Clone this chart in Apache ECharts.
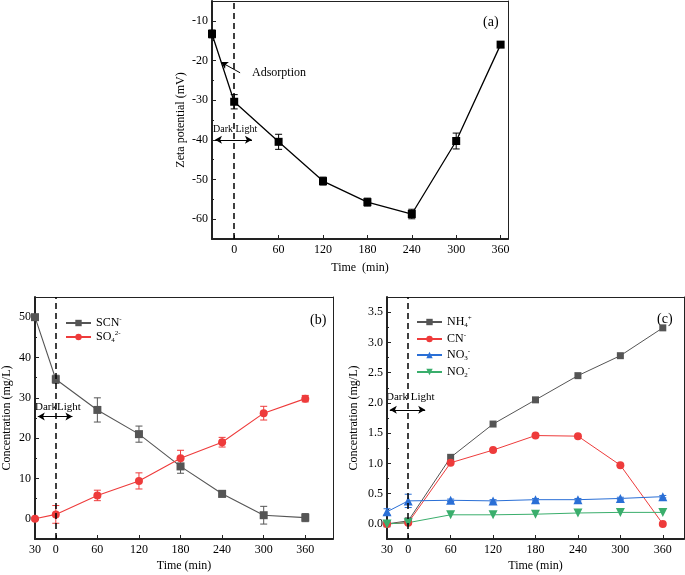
<!DOCTYPE html>
<html><head><meta charset="utf-8">
<script src="https://cdn.jsdelivr.net/npm/echarts@6/dist/echarts.min.js"></script>
<style>html,body{margin:0;padding:0;background:#fff}#c{width:685px;height:575px}</style>
</head><body><div id="c"></div>
<script>
// ---- data ----
const times = [-30, 0, 60, 120, 180, 240, 300, 360];
const xTickLabels = [0, 60, 120, 180, 240, 300, 360];
const xTickLabelsBC = [-30, 0, 60, 120, 180, 240, 300, 360];
const zeta = [-13.3, -30.4, -40.5, -50.4, -55.7, -58.7, -40.3, -16.0];
const zetaErr = [1.0, 1.8, 1.9, 1.0, 1.0, 1.2, 2.0, 0.7];
const scn = [50, 34.6, 27.0, 21.0, 13.0, 6.2, 0.9, 0.3];
const scnErr = [0.4, 1.0, 3.0, 2.0, 1.7, 0.8, 2.2, 1.0];
const so4 = [0, 1.1, 5.8, 9.4, 15.0, 19.0, 26.2, 29.8];
const so4Err = [0.3, 2.2, 1.3, 2.0, 2.0, 1.2, 1.7, 0.8];
const nh4 = [0, 0.05, 1.10, 1.65, 2.05, 2.45, 2.78, 3.24];
const cn = [0, 0.02, 1.01, 1.22, 1.46, 1.45, 0.97, 0.0];
const no3 = [0.20, 0.38, 0.39, 0.38, 0.40, 0.40, 0.42, 0.45];
const no3Err = [0.05, 0.11, 0.02, 0.02, 0.02, 0.02, 0.02, 0.02];
const no2 = [0, 0.02, 0.15, 0.15, 0.16, 0.18, 0.19, 0.19];
const yTicksA = [-60, -50, -40, -30, -20, -10];
const yMinorA = [-55, -45, -35, -25, -15];
const yTicksB = [0, 10, 20, 30, 40, 50];
const yMinorB = [5, 15, 25, 35, 45];
const yTicksC = [0, 0.5, 1.0, 1.5, 2.0, 2.5, 3.0, 3.5];
const yMinorC = [0.25, 0.75, 1.25, 1.75, 2.25, 2.75, 3.25];

const FONT = 'Liberation Serif';
const AX = '#222';
const chart = echarts.init(document.getElementById('c'), null, {renderer: 'canvas'});

const grids = [
  {left: 212, right: 177, top: 1, bottom: 336},
  {left: 35, right: 352, top: 297, bottom: 36},
  {left: 387, right: 1, top: 297, bottom: 36}
].map(g => Object.assign(g, {containLabel: false, outerBoundsMode: 'none'}));

const xAxes = [], yAxes = [];
function addPanel(g, c) {
  const xi = xAxes.length, yi = yAxes.length;
  xAxes.push({
    gridIndex: g, type: 'value', min: c.xmin, max: c.xmax, position: 'bottom',
    name: c.xName, nameLocation: 'middle', nameGap: c.xNameGap,
    nameTextStyle: {fontFamily: FONT, fontSize: 12, color: '#000'},
    axisLine: {show: true, onZero: false, lineStyle: {color: AX, width: 2}},
    axisTick: {show: true, inside: true, length: 4, customValues: c.xTicks, lineStyle: {color: AX, width: 1}},
    axisLabel: {show: true, customValues: c.xTicks, margin: 5, fontFamily: FONT, fontSize: 12, color: '#000',
      formatter: v => (v < 0 ? String(-v) : String(v))},
    splitLine: {show: false}
  });
  xAxes.push({
    gridIndex: g, type: 'value', min: c.xmin, max: c.xmax, position: 'top',
    axisLine: {show: true, onZero: false, lineStyle: {color: AX, width: 1}},
    axisTick: {show: false}, axisLabel: {show: false}, splitLine: {show: false}
  });
  yAxes.push({
    gridIndex: g, type: 'value', min: c.ymin, max: c.ymax, position: 'left',
    name: c.yName, nameLocation: 'middle', nameGap: c.yNameGap,
    nameTextStyle: {fontFamily: FONT, fontSize: 12, color: '#000'},
    axisLine: {show: true, onZero: false, lineStyle: {color: AX, width: 2}},
    axisTick: {show: true, inside: true, length: 4, customValues: c.yTicks, lineStyle: {color: AX, width: 1}},
    axisLabel: {show: true, customValues: c.yTicks, margin: 4, fontFamily: FONT, fontSize: 12, color: '#000',
      formatter: c.yFmt},
    splitLine: {show: false}
  });
  yAxes.push({
    gridIndex: g, type: 'value', min: c.ymin, max: c.ymax, position: 'left',
    axisLine: {show: false, onZero: false},
    axisTick: {show: true, inside: true, length: 2, customValues: c.yMinor, lineStyle: {color: AX, width: 1}},
    axisLabel: {show: false}, splitLine: {show: false}
  });
  yAxes.push({
    gridIndex: g, type: 'value', min: c.ymin, max: c.ymax, position: 'right',
    axisLine: {show: true, onZero: false, lineStyle: {color: AX, width: 1}},
    axisTick: {show: false}, axisLabel: {show: false}, splitLine: {show: false}
  });
  return {x: xi, y: yi};
}

const pA = addPanel(0, {xmin: -30, xmax: 370, xTicks: xTickLabels, xName: 'Time  (min)', xNameGap: 23,
  ymin: -65, ymax: -5, yTicks: yTicksA, yMinor: yMinorA, yName: 'Zeta potential (mV)', yNameGap: 25,
  yFmt: v => String(v)});
const pB = addPanel(1, {xmin: -30, xmax: 400, xTicks: xTickLabelsBC, xName: 'Time (min)', xNameGap: 21,
  ymin: -5, ymax: 55, yTicks: yTicksB, yMinor: yMinorB, yName: 'Concentration (mg/L)', yNameGap: 22,
  yFmt: v => String(v)});
const pC = addPanel(2, {xmin: -30, xmax: 390, xTicks: xTickLabelsBC, xName: 'Time (min)', xNameGap: 21,
  ymin: -0.25, ymax: 3.75, yTicks: yTicksC, yMinor: yMinorC, yName: 'Concentration (mg/L)', yNameGap: 27,
  yFmt: v => v.toFixed(1)});

function lineSeries(name, p, vals, color, symbol, size, width, extra) {
  return Object.assign({
    name: name, type: 'line', xAxisIndex: p.x, yAxisIndex: p.y,
    data: times.map((t, i) => [t, vals[i]]),
    symbol: symbol, symbolSize: size, showSymbol: true,
    lineStyle: {color: color, width: width}, itemStyle: {color: color},
    emphasis: {disabled: true}, animation: false, z: 4
  }, extra || {});
}
function errSeries(p, vals, errs, color) {
  return {
    type: 'custom', xAxisIndex: p.x, yAxisIndex: p.y, silent: true, animation: false, z: 3,
    data: times.map((t, i) => [t, vals[i], errs[i]]),
    renderItem: (params, api) => {
      const x = api.value(0), y = api.value(1), e = api.value(2);
      const a = api.coord([x, y + e]), b = api.coord([x, y - e]);
      const w = 3.5, st = {stroke: color, lineWidth: 1};
      return {type: 'group', children: [
        {type: 'line', shape: {x1: a[0], y1: a[1], x2: b[0], y2: b[1]}, style: st},
        {type: 'line', shape: {x1: a[0] - w, y1: a[1], x2: a[0] + w, y2: a[1]}, style: st},
        {type: 'line', shape: {x1: b[0] - w, y1: b[1], x2: b[0] + w, y2: b[1]}, style: st}
      ]};
    }
  };
}
function guideLines(arrowY, extra) {
  const dash = {type: [6, 4], color: '#000', width: 1.5};
  const arr = {type: 'solid', color: '#000', width: 1.2};
  const data = [
    {xAxis: 0, lineStyle: dash, symbol: 'none'},
    [{coord: [-26, arrowY], symbol: 'arrow', symbolSize: [6, 7], lineStyle: arr},
     {coord: [24, arrowY], symbol: 'arrow', symbolSize: [6, 7]}]
  ].concat(extra || []);
  return {markLine: {silent: true, animation: false, symbol: 'none', label: {show: false}, data: data}};
}

const GRAY = '#555555', RED = '#ee3b3b', BLUE = '#2a6fd6', GREEN = '#3aae6c';
const downTri = 'path://M0,0 L10,0 L5,9 Z';

const series = [
  errSeries(pA, zeta, zetaErr, '#000'),
  lineSeries('Zeta', pA, zeta, '#000', 'rect', 8, 1.3, guideLines(-40, [
    [{coord: [8, -23.1], symbol: 'none', lineStyle: {type: 'solid', color: '#000', width: 1}},
     {coord: [-18, -20.4], symbol: 'arrow', symbolSize: [6, 7]}]
  ])),
  errSeries(pB, scn, scnErr, GRAY),
  errSeries(pB, so4, so4Err, RED),
  lineSeries('SCN', pB, scn, GRAY, 'rect', 8, 1.1, guideLines(25.4)),
  lineSeries('SO4', pB, so4, RED, 'circle', 8, 1.1),
  errSeries(pC, no3, no3Err, BLUE),
  lineSeries('NH4', pC, nh4, GRAY, 'rect', 7, 1, guideLines(1.885)),
  lineSeries('CN', pC, cn, RED, 'circle', 8, 1),
  lineSeries('NO3', pC, no3, BLUE, 'triangle', 9, 1),
  lineSeries('NO2', pC, no2, GREEN, downTri, 9, 1)
];

const labelMap = {
  SCN: '{t|SCN}{sup|-}', SO4: '{t|SO}{sub|4}{sup|2-}',
  NH4: '{t|NH}{sub|4}{sup|+}', CN: '{t|CN}{sup|-}', NO3: '{t|NO}{sub|3}{sup|-}', NO2: '{t|NO}{sub|2}{sup|-}'
};
const rich = {
  t: {fontFamily: FONT, fontSize: 12, color: '#000', lineHeight: 14},
  sup: {fontFamily: FONT, fontSize: 7, color: '#000', verticalAlign: 'top', lineHeight: 14, padding: [0, 0, 6, 0]},
  sub: {fontFamily: FONT, fontSize: 7, color: '#000', verticalAlign: 'bottom', lineHeight: 14, padding: [5, 0, 0, 0]}
};
const legendBase = {orient: 'vertical', itemWidth: 25, itemHeight: 8, itemGap: 1, padding: 0,
  selectedMode: false, formatter: n => labelMap[n], textStyle: {rich: rich, padding: [0, 0, 0, 0]}};

function txt(x, y, s, size, align) {
  return {type: 'text', x: x, y: y, silent: true,
    style: {text: s, fill: '#000', font: size + 'px "' + FONT + '"', textAlign: align || 'left', textVerticalAlign: 'middle'}};
}

chart.setOption({
  animation: false,
  backgroundColor: '#fff',
  grid: grids,
  xAxis: xAxes,
  yAxis: yAxes,
  legend: [
    Object.assign({}, legendBase, {left: 65, top: 316, data: ['SCN', 'SO4']}),
    Object.assign({}, legendBase, {left: 416, top: 315, itemGap: 3, data: ['NH4', 'CN', 'NO3', 'NO2']})
  ],
  series: series,
  graphic: [
    txt(483, 22, '(a)', 14),
    txt(252, 73, 'Adsorption', 12),
    txt(213, 129, 'Dark Light', 10),
    txt(310, 320, '(b)', 14),
    txt(35, 407, 'DarkLight', 11),
    txt(657, 319, '(c)', 14),
    txt(386, 397, 'Dark Light', 11)
  ]
});
</script></body></html>
